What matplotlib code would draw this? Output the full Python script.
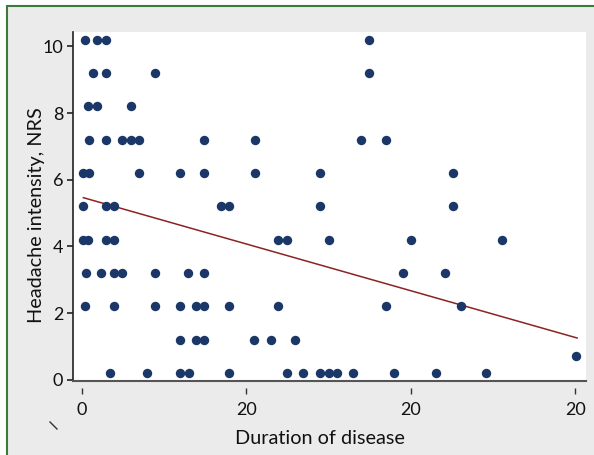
import numpy as np
import matplotlib.pyplot as plt
from matplotlib.patches import Rectangle
from matplotlib.lines import Line2D

plt.rcParams['font.family'] = ['Lato', 'DejaVu Sans']

# duration of disease vs headache intensity (NRS)
duration = [
    0.4, 1.8, 3.0, 34.9,
    1.4, 3.0, 8.9, 34.9,
    0.8, 1.9, 6.0,
    0.9, 3.0, 4.9, 6.0, 7.0, 14.9, 21.0, 33.9, 37.0,
    0.2, 0.9, 7.0, 11.9, 14.9, 21.0, 28.9, 45.1,
    0.2, 2.9, 3.9, 16.9, 17.9, 28.9, 45.1,
    0.1, 0.8, 2.9, 3.9, 23.9, 25.0, 30.0, 40.0, 51.1,
    0.5, 2.4, 3.9, 4.9, 8.9, 12.9, 14.9, 39.0, 44.1,
    0.4, 3.9, 8.9, 11.9, 13.9, 14.9, 17.9, 23.9, 37.0, 46.1,
    11.9, 13.9, 14.9, 20.9, 23.0, 25.9,
    3.4, 7.9, 11.9, 13.0, 17.9, 24.9, 26.9, 29.0, 30.0, 31.0, 33.0, 38.0, 43.0, 49.1,
    60.1,
]
nrs = (
    [10.2] * 4 + [9.2] * 4 + [8.2] * 3 + [7.2] * 9 + [6.2] * 8 + [5.2] * 7
    + [4.2] * 9 + [3.2] * 9 + [2.2] * 10 + [1.2] * 6 + [0.2] * 14 + [0.7]
)

# fitted line end points
fit_x = [0.2, 60.2]
fit_y = [5.46, 1.25]

xtick_values = [0, 20, 40, 60]
xtick_labels = ["0", "20", "20", "20"]
ytick_values = [0, 2, 4, 6, 8, 10]

W, H = 594, 455
fig = plt.figure(figsize=(W / 100, H / 100), dpi=100)
fig.patch.set_facecolor("white")
bg = Rectangle((7 / W, -0.02), 1.1, 1 - 6 / H + 0.02,
               transform=fig.transFigure, facecolor="#ebebeb",
               edgecolor="#3b7a3b", lw=1.5, zorder=-10)
fig.patches.append(bg)

ax = fig.add_axes([73 / W, (H - 381) / H, (586 - 73) / W, (381 - 32) / H])
ax.set_zorder(5)
ax.set_facecolor("white")

ax.scatter(duration, nrs, s=46, color="#1b3767", linewidths=0, zorder=3)
ax.plot(fit_x, fit_y, color="#8e2222", lw=1.1, zorder=2)

ax.set_xlim(-1.06, 61.28)
ax.set_ylim(-0.04, 10.43)

for side in ["top", "right"]:
    ax.spines[side].set_visible(False)
ax.spines["left"].set_color("#222222")
ax.spines["left"].set_linewidth(1.2)
ax.spines["bottom"].set_position(("outward", 5))
ax.spines["bottom"].set_visible(False)
ax.plot([0, 1], [0, 0], transform=ax.transAxes, color="#555555", lw=1.5,
        clip_on=False, zorder=4)

ax.set_xticks(xtick_values)
ax.set_xticklabels(xtick_labels)
ax.set_yticks(ytick_values)
ax.tick_params(axis="x", length=4, width=1, color="#333333", pad=6,
               labelsize=13, labelcolor="#111111")
ax.tick_params(axis="y", length=4, width=1.2, color="#222222", pad=3,
               labelsize=13, labelcolor="#111111")

ax.set_xlabel("Duration of disease", fontsize=14.3, color="#111111")
ax.xaxis.set_label_coords(0.481, -0.14)
ax.set_ylabel("Headache intensity, NRS", fontsize=14.3, color="#111111")
ax.yaxis.set_label_coords(-0.054, 0.476)

fig.add_artist(Line2D([50 / W, 57 / W], [1 - 422 / H, 1 - 429 / H],
                      transform=fig.transFigure, color="#333333", lw=1))

fig.savefig("out.png", dpi=100)
